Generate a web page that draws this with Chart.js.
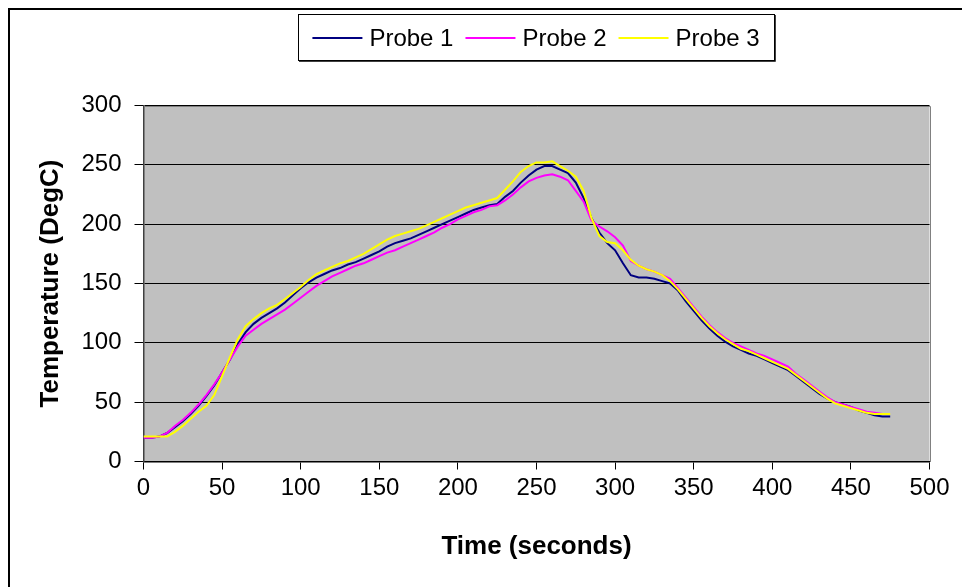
<!DOCTYPE html>
<html>
<head>
<meta charset="utf-8">
<title>Probe temperatures</title>
<script src="https://cdn.jsdelivr.net/npm/chart.js@4.4.1/dist/chart.umd.min.js"></script>
<style>
  html, body { margin: 0; padding: 0; background: #fff; }
  canvas { display: block; }
</style>
</head>
<body>
<canvas id="probe-temps" width="962" height="587"></canvas>
<script>

// Time axis (seconds), one reading every 5 s
var times = [
    0, 5, 10, 15, 20, 25, 30, 35, 40, 45,
    50, 55, 60, 65, 70, 75, 80, 85, 90, 95,
    100, 105, 110, 115, 120, 125, 130, 135, 140, 145,
    150, 155, 160, 165, 170, 175, 180, 185, 190, 195,
    200, 205, 210, 215, 220, 225, 230, 235, 240, 245,
    250, 255, 260, 265, 270, 275, 280, 285, 290, 295,
    300, 305, 310, 315, 320, 325, 330, 335, 340, 345,
    350, 355, 360, 365, 370, 375, 380, 385, 390, 395,
    400, 405, 410, 415, 420, 425, 430, 435, 440, 445,
    450, 455, 460, 465, 470, 475
];

// Temperatures (DegC)
var probe1 = [
    20, 20, 21, 24, 29, 34, 40, 47, 55, 64,
    75, 86, 99, 109, 116, 121, 125, 129, 134, 140,
    146, 151, 155, 158, 161, 163, 166, 168, 171, 174,
    177, 181, 184, 186, 188, 191, 194, 197, 200, 203,
    206, 209, 212, 214, 216, 217, 223, 228, 235, 241,
    246, 249, 249, 246, 243, 235, 222, 205, 193, 184,
    178, 167, 157, 155, 155, 154, 152, 150, 144, 135,
    127, 119, 112, 106, 101, 97, 94, 91, 89, 86,
    83, 80, 77, 72, 67, 62, 57, 53, 50, 48,
    46, 43, 41, 39, 38, 38
];

var probe2 = [
    20, 20, 21, 24, 30, 35, 41, 48, 56, 65,
    75, 86, 97, 106, 111, 116, 120, 124, 128, 133,
    138, 143, 148, 152, 156, 159, 162, 165, 167, 170,
    173, 176, 178, 181, 184, 187, 190, 193, 197, 200,
    204, 207, 210, 212, 215, 216, 220, 225, 231, 236,
    239, 241, 242, 240, 237, 228, 219, 203, 198, 194,
    189, 182, 169, 165, 162, 160, 157, 154, 146, 138,
    130, 122, 115, 109, 104, 100, 97, 94, 91, 89,
    86, 83, 80, 74, 69, 64, 59, 54, 50, 48,
    46, 44, 42, 41, 40, null
];

var probe3 = [
    21, 21, 21, 21, 25, 30, 36, 42, 47, 56,
    72, 88, 103, 114, 120, 125, 129, 132, 137, 142,
    147, 153, 158, 161, 164, 167, 169, 172, 175, 179,
    183, 187, 190, 192, 194, 196, 199, 202, 205, 208,
    211, 214, 216, 218, 220, 222, 229, 236, 244, 249,
    252, 252, 253, 249, 245, 240, 228, 205, 190, 185,
    184, 178, 170, 165, 162, 160, 157, 152, 145, 137,
    129, 121, 114, 108, 103, 99, 95, 93, 90, 87,
    84, 81, 78, 73, 68, 63, 58, 53, 49, 47,
    45, 43, 41, 40, 40, 40
];

var seriesNames = ['Probe 1', 'Probe 2', 'Probe 3'];
var seriesColors = ['#000080', '#FF00FF', '#FFFF00'];

var tempTicks = [0, 50, 100, 150, 200, 250, 300];
var timeTicks = [0, 50, 100, 150, 200, 250, 300, 350, 400, 450, 500];

var fontFamily = '"Liberation Sans", Arial, Helvetica, sans-serif';

function points(ys) {
    var out = [];
    for (var i = 0; i < times.length; i++) {
        out.push({ x: times[i], y: ys[i] });
    }
    return out;
}

// Excel-like frame: outer border, grey plot area, boxed legend
var excelFrame = {
    id: 'excelFrame',
    beforeDraw: function(chart) {
        var ctx = chart.ctx;
        var a = chart.chartArea;
        ctx.save();
        ctx.fillStyle = '#ffffff';
        ctx.fillRect(0, 0, chart.width, chart.height);

        // chart border, only top and left edges show in the picture
        ctx.strokeStyle = '#000000';
        ctx.lineWidth = 2;
        ctx.beginPath();
        ctx.moveTo(9, chart.height);
        ctx.lineTo(9, 9);
        ctx.lineTo(chart.width, 9);
        ctx.stroke();

        ctx.fillStyle = '#C0C0C0';
        ctx.fillRect(a.left, a.top, a.right - a.left, a.bottom - a.top);
        ctx.restore();
    },
    beforeDatasetsDraw: function(chart) {
        var ctx = chart.ctx;
        var a = chart.chartArea;
        ctx.save();
        ctx.strokeStyle = '#808080';
        ctx.lineWidth = 1;
        ctx.beginPath();
        ctx.moveTo(Math.round(a.left), Math.round(a.top) + 0.5);
        ctx.lineTo(Math.round(a.right) + 0.5, Math.round(a.top) + 0.5);
        ctx.lineTo(Math.round(a.right) + 0.5, Math.round(a.bottom));
        ctx.stroke();
        ctx.restore();
    },
    afterDraw: function(chart) {
        var ctx = chart.ctx;
        var box = { left: 298, top: 14, width: 476, height: 46 };
        ctx.save();
        ctx.fillStyle = '#ffffff';
        ctx.fillRect(box.left, box.top, box.width, box.height);
        ctx.strokeStyle = '#000000';
        ctx.lineWidth = 1;
        ctx.strokeRect(box.left + 0.5, box.top + 0.5, box.width, box.height);
        // slight shadow on right / bottom
        ctx.strokeStyle = '#404040';
        ctx.beginPath();
        ctx.moveTo(box.left + box.width + 1.5, box.top + 1);
        ctx.lineTo(box.left + box.width + 1.5, box.top + box.height + 1.5);
        ctx.lineTo(box.left + 1, box.top + box.height + 1.5);
        ctx.stroke();

        ctx.font = '24px ' + fontFamily;
        ctx.textBaseline = 'middle';
        ctx.textAlign = 'left';
        var lineLen = 50, gapLine = 7, gapText = 12;
        var total = 0;
        var widths = [];
        for (var i = 0; i < seriesNames.length; i++) {
            widths.push(ctx.measureText(seriesNames[i]).width);
            total += lineLen + gapLine + widths[i];
            if (i < seriesNames.length - 1) total += gapText;
        }
        var x = box.left + (box.width - total) / 2;
        var y = box.top + box.height / 2 + 1;
        for (var j = 0; j < seriesNames.length; j++) {
            ctx.strokeStyle = seriesColors[j];
            ctx.lineWidth = 2;
            ctx.beginPath();
            ctx.moveTo(x, y);
            ctx.lineTo(x + lineLen, y);
            ctx.stroke();
            x += lineLen + gapLine;
            ctx.fillStyle = '#000000';
            ctx.fillText(seriesNames[j], x, y + 1);
            x += widths[j] + gapText;
        }
        ctx.restore();
    }
};

var ctx = document.getElementById('probe-temps');

var tempChart = new Chart(ctx, {
    type: 'line',
    data: {
        datasets: [
            { label: seriesNames[0], data: points(probe1), borderColor: seriesColors[0], order: 2 },
            { label: seriesNames[1], data: points(probe2), borderColor: seriesColors[1], order: 1 },
            { label: seriesNames[2], data: points(probe3), borderColor: seriesColors[2], order: 0 }
        ]
    },
    options: {
        responsive: false,
        devicePixelRatio: 1,
        animation: false,
        spanGaps: false,
        elements: {
            line: { borderWidth: 2, tension: 0, fill: false },
            point: { radius: 0, hoverRadius: 0 }
        },
        layout: {
            padding: { top: 105.5, right: 32.5, bottom: 0, left: 0 }
        },
        plugins: {
            legend: { display: false },
            tooltip: { enabled: false }
        },
        scales: {
            x: {
                type: 'linear',
                min: 0,
                max: 500,
                afterBuildTicks: function(scale) {
                    scale.ticks = timeTicks.map(function(v) { return { value: v }; });
                },
                afterFit: function(scale) { scale.height = 125.5; },
                grid: { drawOnChartArea: false, drawTicks: true, tickLength: 8, color: '#000000', lineWidth: 1 },
                border: { color: '#000000', width: 1.5 },
                ticks: {
                    padding: 4,
                    maxRotation: 0,
                    autoSkip: false,
                    color: '#000000',
                    font: { family: fontFamily, size: 24 }
                },
                title: {
                    display: true,
                    text: 'Time (seconds)',
                    color: '#000000',
                    font: { family: fontFamily, size: 26, weight: 'bold' },
                    padding: { top: 0, bottom: 25 }
                }
            },
            y: {
                min: 0,
                max: 300,
                afterBuildTicks: function(scale) {
                    scale.ticks = tempTicks.map(function(v) { return { value: v }; });
                },
                afterFit: function(scale) { scale.width = 143.5; },
                grid: { drawOnChartArea: true, drawTicks: true, tickLength: 9, color: '#000000', lineWidth: 1 },
                border: { color: '#404040', width: 1.5 },
                ticks: {
                    padding: 13,
                    autoSkip: false,
                    color: '#000000',
                    font: { family: fontFamily, size: 24 }
                },
                title: {
                    display: true,
                    text: 'Temperature (DegC)',
                    color: '#000000',
                    font: { family: fontFamily, size: 26, weight: 'bold' },
                    padding: { top: 35, bottom: 0 }
                }
            }
        }
    },
    plugins: [excelFrame]
});

</script>
</body>
</html>
